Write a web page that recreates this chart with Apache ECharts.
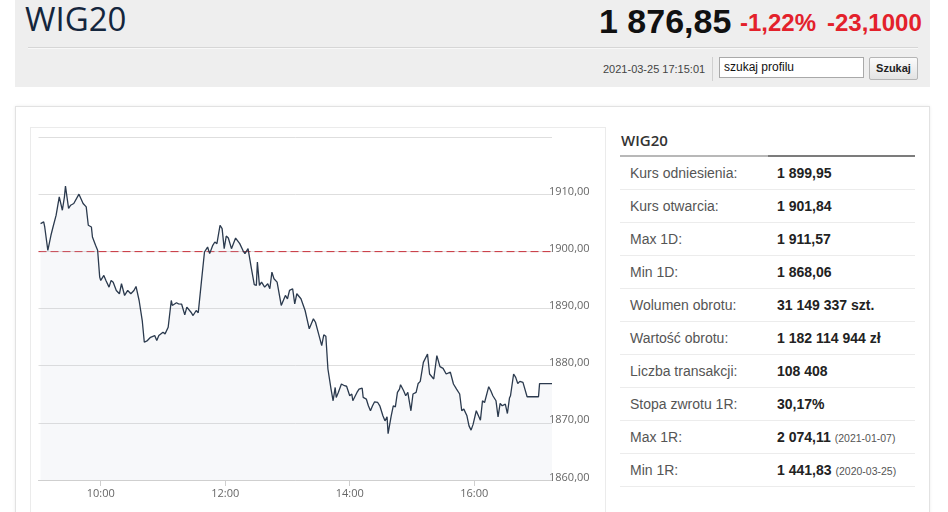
<!DOCTYPE html>
<html>
<head>
<meta charset="utf-8">
<script src="https://cdn.jsdelivr.net/npm/echarts@6/dist/echarts.min.js"></script>
<style>
html,body{margin:0;padding:0;background:#fff;width:948px;height:512px;overflow:hidden;font-family:"Liberation Sans",Arial,sans-serif;}
.abs{position:absolute;white-space:nowrap;}
#hdr{left:15px;top:0;width:915px;height:87px;background:#eeeeee;}
#panel{left:15px;top:106px;width:913px;height:430px;border:1px solid #e2e2e2;box-shadow:0 0 3px rgba(0,0,0,0.08);background:#fff;}
#cbox{left:30px;top:127px;width:574px;height:420px;border:1px solid #ebebeb;}
#chart{left:30px;top:127px;width:576px;height:385px;}
.row{position:absolute;left:620px;width:295px;height:32px;border-bottom:1px solid #ececec;font-size:14px;line-height:33px;}
.row .l{position:absolute;left:10px;color:#555;}
.row .v{position:absolute;left:157px;color:#222;font-weight:bold;}
.row .d{font-weight:normal;font-size:10.5px;color:#555;margin-left:4px;}
</style>
</head>
<body>
<div id="hdr" class="abs"></div>
<div class="abs" style="left:25px;top:2px;font-family:'Open Sans';font-weight:500;font-size:33px;line-height:33px;color:#14263d;">WIG20</div>
<div class="abs" style="left:599px;top:4px;font-size:34px;line-height:34px;font-weight:bold;color:#111;">1 876,85</div>
<div class="abs" style="left:740px;top:11px;font-size:24px;line-height:24px;font-weight:bold;color:#e3212b;">-1,22%</div>
<div class="abs" style="left:827px;top:11px;font-size:24px;line-height:24px;font-weight:bold;color:#e3212b;">-23,1000</div>
<div class="abs" style="left:28px;top:47px;width:890px;height:1px;background:#d6d6d6;border-bottom:1px solid #f8f8f8;"></div>
<div class="abs" style="left:603px;top:63px;font-size:11px;line-height:12px;color:#444;">2021-03-25 17:15:01</div>
<div class="abs" style="left:712px;top:57px;width:1px;height:24px;background:#d0d0d0;"></div>
<div class="abs" style="left:719px;top:57px;width:143px;height:19px;border:1px solid #a9a9a9;background:#fff;font-size:12px;line-height:19px;color:#111;"><span style="margin-left:4px;">szukaj profilu</span></div>
<div class="abs" style="left:869px;top:57px;width:47px;height:21px;border:1px solid #b5b5b5;border-radius:2px;background:linear-gradient(#fbfbfb,#e3e3e3);font-size:11px;line-height:21px;font-weight:bold;color:#222;text-align:center;">Szukaj</div>

<div id="panel" class="abs"></div>
<div id="cbox" class="abs"></div>
<div id="chart" class="abs"></div>

<div class="abs" style="left:621px;top:133px;font-family:'Open Sans';font-weight:600;font-size:15px;line-height:15px;color:#333;">WIG20</div>
<div class="abs" style="left:620px;top:155px;width:148px;height:2px;background:#b8b8b8;"></div>
<div class="abs" style="left:768px;top:155px;width:147px;height:2px;background:#7c7c7c;"></div>
<div id="tbl"></div>

<script>
// ---- summary table ----
const statLabels = ["Kurs odniesienia:", "Kurs otwarcia:", "Max 1D:", "Min 1D:", "Wolumen obrotu:", "Wartość obrotu:", "Liczba transakcji:", "Stopa zwrotu 1R:", "Max 1R:", "Min 1R:"];
const statValues = ["1 899,95", "1 901,84", "1 911,57", "1 868,06", "31 149 337 szt.", "1 182 114 944 zł", "108 408", "30,17%", "2 074,11", "1 441,83"];
const statDates = ["", "", "", "", "", "", "", "", "(2021-01-07)", "(2020-03-25)"];

// ---- intraday series ----
const times = ["09:02","09:05","09:06","09:09","09:12","09:14","09:17","09:20","09:23","09:25","09:26","09:29","09:31","09:34","09:39","09:43","09:46","09:48","09:51","09:52","09:55","09:57","09:59","10:00","10:03","10:05","10:08","10:10","10:12","10:15","10:18","10:20","10:23","10:26","10:29","10:32","10:34","10:37","10:40","10:42","10:45","10:48","10:52","10:54","10:56","11:00","11:02","11:05","11:08","11:09","11:13","11:15","11:18","11:21","11:23","11:27","11:29","11:32","11:34","11:37","11:40","11:43","11:45","11:48","11:50","11:52","11:55","11:57","11:59","12:01","12:03","12:06","12:10","12:14","12:17","12:19","12:22","12:25","12:28","12:30","12:31","12:33","12:35","12:38","12:41","12:43","12:45","12:47","12:50","12:54","12:58","13:00","13:02","13:05","13:07","13:09","13:13","13:17","13:21","13:25","13:27","13:30","13:33","13:35","13:37","13:39","13:42","13:44","13:46","13:47","13:49","13:52","13:55","13:57","14:00","14:02","14:03","14:07","14:09","14:12","14:13","14:16","14:18","14:20","14:22","14:24","14:27","14:29","14:32","14:34","14:36","14:37","14:40","14:42","14:44","14:46","14:48","14:49","14:52","14:54","14:56","14:59","15:01","15:04","15:06","15:08","15:11","15:15","15:17","15:21","15:24","15:27","15:30","15:33","15:37","15:40","15:43","15:46","15:48","15:50","15:53","15:55","15:57","15:59","16:02","16:03","16:06","16:08","16:10","16:14","16:16","16:18","16:21","16:23","16:25","16:27","16:30","16:32","16:34","16:35","16:38","16:40","16:42","16:44","16:47","16:51","16:54","17:02","17:03","17:15"];
const values = [1904.86,1905.14,1904.26,1900.18,1902.81,1904.26,1906.32,1909.53,1907.19,1909.53,1911.40,1907.49,1908.07,1908.37,1910.00,1908.37,1907.77,1904.56,1904.26,1902.51,1901.05,1900.18,1895.49,1894.91,1895.79,1894.91,1893.74,1894.91,1894.60,1893.16,1892.58,1894.33,1892.28,1893.16,1892.58,1893.16,1893.86,1891.40,1887.89,1884.09,1884.39,1884.96,1885.26,1884.39,1885.26,1885.84,1885.56,1886.72,1891.40,1890.53,1891.00,1890.82,1890.75,1888.89,1890.23,1889.35,1888.77,1889.65,1889.25,1894.61,1899.88,1900.75,1899.60,1901.05,1901.63,1901.35,1904.56,1903.98,1900.47,1902.68,1902.33,1900.47,1902.33,1901.35,1900.18,1899.60,1900.47,1897.25,1894.16,1894.04,1898.12,1894.04,1894.61,1893.74,1894.33,1893.46,1896.37,1895.21,1894.61,1890.53,1892.28,1891.70,1893.16,1893.46,1890.82,1892.58,1891.70,1889.65,1886.44,1888.19,1887.60,1885.56,1883.51,1885.38,1885.14,1879.42,1875.91,1873.86,1876.19,1874.44,1875.32,1876.79,1876.49,1876.40,1874.74,1875.04,1873.86,1875.32,1875.91,1876.09,1874.44,1874.16,1872.98,1872.11,1872.98,1873.68,1873.56,1872.98,1871.23,1870.35,1871.05,1868.10,1871.23,1872.98,1872.80,1875.32,1875.91,1876.67,1875.61,1874.74,1875.32,1872.11,1875.04,1875.32,1876.89,1877.25,1880.58,1882.05,1878.54,1877.67,1881.75,1879.82,1879.53,1878.54,1878.86,1876.79,1875.91,1875.04,1872.11,1872.40,1871.23,1869.47,1868.72,1869.77,1872.11,1872.40,1870.47,1873.86,1873.56,1876.32,1875.61,1874.74,1873.86,1871.05,1873.39,1872.98,1873.28,1871.63,1874.33,1874.74,1878.54,1877.95,1876.89,1877.25,1877.07,1874.56,1874.56,1874.56,1876.85,1876.85];
const referencePrice = 1899.95;
const xTickTimes = ["10:00", "12:00", "14:00", "16:00"];
const xRange = ["09:00", "17:15"];
const yMin = 1860, yMax = 1920, yStep = 10;

// build table
const tbl = document.getElementById('tbl');
statLabels.forEach((lab, i) => {
  const r = document.createElement('div');
  r.className = 'row';
  r.style.top = (157 + 33 * i) + 'px';
  r.innerHTML = '<span class="l"></span><span class="v"></span>';
  r.querySelector('.l').textContent = lab;
  const v = r.querySelector('.v');
  v.textContent = statValues[i];
  if (statDates[i]) {
    const d = document.createElement('span');
    d.className = 'd';
    d.textContent = statDates[i];
    v.appendChild(d);
  }
  tbl.appendChild(r);
});

const toMin = s => { const p = s.split(':'); return +p[0] * 60 + +p[1]; };
const fmtTime = m => String(Math.floor(m / 60)).padStart(2, '0') + ':' + String(m % 60).padStart(2, '0');
const seriesData = times.map((t, i) => [toMin(t), values[i]]);
const tickVals = xTickTimes.map(toMin);
const xMin = toMin(xRange[0]), xMax = toMin(xRange[1]);

const chart = echarts.init(document.getElementById('chart'), null, {renderer: 'canvas'});
chart.setOption({
  animation: false,
  grid: {left: 8.5, top: 10, width: 513.5, height: 343, containLabel: false},
  xAxis: {
    type: 'value',
    min: xMin,
    max: xMax,
    axisLine: {lineStyle: {color: '#cfcfcf', width: 1}},
    axisTick: {show: true, customValues: tickVals, length: 6, lineStyle: {color: '#cfcfcf'}},
    axisLabel: {customValues: tickVals, formatter: v => fmtTime(v), color: '#666', fontSize: 11, fontFamily: 'Open Sans', margin: 8},
    splitLine: {show: false}
  },
  yAxis: {
    type: 'value',
    position: 'right',
    min: yMin, max: yMax, interval: yStep,
    axisLine: {show: false},
    axisTick: {show: false},
    axisLabel: {
      showMaxLabel: false,
      margin: -3,
      verticalAlign: 'bottom',
      padding: [0, 0, -3, 0],
      color: '#666', fontSize: 11, fontFamily: 'Open Sans',
      formatter: v => v.toFixed(2).replace('.', ',')
    },
    splitLine: {lineStyle: {color: '#dedede', width: 1}}
  },
  series: [{
    type: 'line',
    name: 'ref',
    data: [[xMin, referencePrice], [xMax, referencePrice]],
    showSymbol: false,
    symbol: 'none',
    silent: true,
    z: 1,
    lineStyle: {color: '#c8303a', type: [8, 4], width: 1}
  }, {
    type: 'line',
    name: 'WIG20',
    data: seriesData,
    showSymbol: false,
    symbol: 'none',
    z: 2,
    lineStyle: {color: '#2b3a4e', width: 1.3},
    areaStyle: {color: 'rgba(200,208,220,0.2)', origin: 'start'}
  }]
});
</script>
</body>
</html>
